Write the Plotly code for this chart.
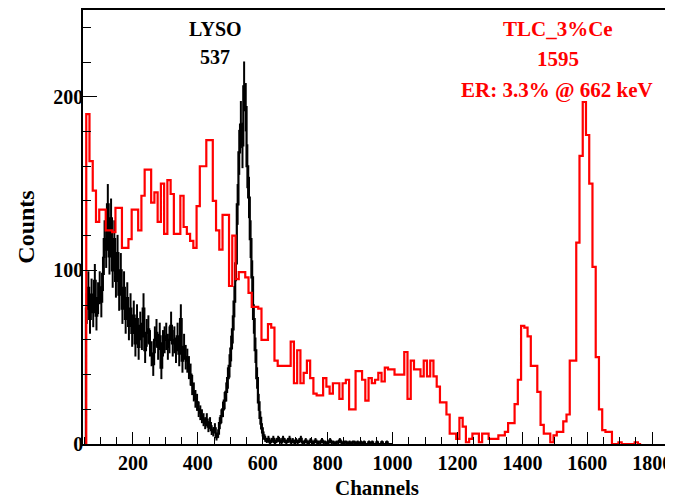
import numpy as np
import plotly.graph_objects as go

# ---------------- data ----------------
# TLC_3%Ce spectrum (red), bins of 10 channels starting at channel 56
TLC_START = 56
TLC_WIDTH = 10
tlc_counts = [
    190, 163, 146, 128, 135, 135, 123, 123, 122, 136,
    136, 113, 113, 118, 135, 135, 123, 143, 158, 158,
    139, 145, 128, 150, 121, 152, 144, 121, 121, 143,
    125, 121, 117, 113, 137, 160, 160, 175, 175, 140,
    123, 112, 132, 132, 91, 120, 95, 99, 99, 96,
    87, 79, 79, 78, 60, 60, 69, 67, 48, 45,
    45, 45, 45, 59, 35, 54, 35, 41, 48, 38,
    29, 28, 28, 38, 33, 29, 35, 35, 26, 35,
    37, 20, 20, 42, 42, 37, 25, 38, 35, 37,
    41, 36, 44, 43, 43, 40, 40, 40, 53, 26,
    48, 43, 43, 39, 48, 39, 48, 39, 33, 24,
    24, 17, 6, 6, 3, 15, 10, 1, 3, 6,
    6, 1, 6, 6, 3, 3, 3, 5, 5, 7,
    12, 12, 23, 37, 68, 67, 62, 45, 45, 30,
    11, 6, 6, 1, 5, 7, 7, 13, 17, 48,
    48, 116, 166, 197, 178, 150, 102, 50, 20, 8,
    7, 7, 0, 0, 1, 0, 0, 0, 0, 1,
    0,
]

# LYSO spectrum (black), bins of 5 channels starting at channel 55
LYSO_START = 55
LYSO_WIDTH = 5
lyso_counts = [
    78, 90, 72, 86, 76, 94, 74, 84, 90, 82, 98, 118, 112,
    138, 108, 130, 100, 118, 94, 110, 86, 100, 78, 90, 72, 84, 68, 78, 64,
    74, 58, 72, 56, 68, 62, 78, 54, 64, 66, 58, 52, 46, 60, 64, 56, 62, 44, 58, 60,
    62, 56, 60, 68, 58, 60, 54, 62, 52, 72, 48, 56, 50, 48, 44, 40, 34, 30, 26, 24,
    20, 18, 16, 14, 12, 14, 10, 12, 8, 7, 9, 4, 6, 12, 16, 20,
    25, 30, 38, 45, 55, 66, 82, 104, 138, 168, 184, 172, 206, 194, 160, 142,
    118, 96, 72, 54, 38, 24, 15, 9,
    5, 3, 2, 3, 1, 2, 3, 1, 2, 3, 2, 1, 3, 2, 1, 2, 3, 1, 2, 1,
    2, 1, 2, 3, 1, 1, 2, 1, 1, 2, 1, 1, 2, 1, 1, 1, 2, 1, 1, 0,
    1, 2, 1, 1, 0, 1, 1, 2, 1, 0, 1, 1, 0, 1, 0, 1, 1, 0, 1, 0,
    1, 0, 1, 0, 0, 1, 0, 1, 0, 0, 1, 0, 0, 1, 0, 0, 1, 0, 0, 0,
]

# annotation texts
lyso_label = ["LYSO", "537"]
tlc_label = ["TLC_3%Ce", "1595", "ER: 3.3% @ 662 keV"]

X_RANGE = [46, 1858]
Y_RANGE = [0, 250]


def step_xy(start, width, counts):
    lefts = [start + i * width for i in range(len(counts))]
    end = start + width * len(counts)
    xs = [start] + lefts + [end]
    ys = [0] + list(counts) + [0]
    return xs, ys


FONT = "Liberation Serif"
RED = "#ff0000"

fig = go.Figure()

# LYSO: step histogram with Poisson error bars
lx, ly = step_xy(LYSO_START, LYSO_WIDTH, lyso_counts)
fig.add_trace(go.Scatter(x=lx, y=ly, mode="lines", line_shape="hv",
                         line=dict(color="black", width=2.2),
                         hoverinfo="skip", showlegend=False))
l_centers = [LYSO_START + (i + 0.5) * LYSO_WIDTH for i in range(len(lyso_counts))]
fig.add_trace(go.Scatter(x=l_centers, y=lyso_counts, mode="markers",
                         marker=dict(size=1, color="black", opacity=0),
                         error_y=dict(type="data", array=np.sqrt(lyso_counts),
                                      width=0, thickness=2, color="black"),
                         hoverinfo="skip", showlegend=False))

# TLC: step histogram
tx, ty = step_xy(TLC_START, TLC_WIDTH, tlc_counts)
fig.add_trace(go.Scatter(x=tx, y=ty, mode="lines", line_shape="hv",
                         line=dict(color=RED, width=2.2),
                         hoverinfo="skip", showlegend=False))

# the page body has an 8px default margin: the figure is sized to fill the rest
OFF = 8
W, H = 673 - OFF, 500 - OFF
ml, mr, mt, mb = 83 - OFF, 2, 10 - OFF, 56
pw, ph = W - ml - mr, H - mt - mb


def px2paper(px, py):
    # px, py: target position in window pixels
    return (px - OFF - ml) / pw, (H - mb - (py - OFF)) / ph


annots = []
for txt, (px, py) in zip(lyso_label, [(215, 29), (215, 57)]):
    x, y = px2paper(px, py)
    annots.append(dict(text=f"<b>{txt}</b>", x=x, y=y, xref="paper", yref="paper",
                       showarrow=False, xanchor="center", yanchor="middle",
                       font=dict(family=FONT, size=20, color="black")))
for txt, (px, py) in zip(tlc_label, [(558, 29), (558, 59), (557, 90)]):
    x, y = px2paper(px, py)
    annots.append(dict(text=f"<b>{txt}</b>", x=x, y=y, xref="paper", yref="paper",
                       showarrow=False, xanchor="center", yanchor="middle",
                       font=dict(family=FONT, size=21, color=RED)))

fig.update_layout(
    width=W, height=H,
    margin=dict(l=ml, r=mr, t=mt, b=mb, autoexpand=False),
    paper_bgcolor="white", plot_bgcolor="white",
    annotations=annots,
    xaxis=dict(
        range=X_RANGE, tick0=0, dtick=200, automargin=False,
        ticks="inside", ticklen=12, tickwidth=1, tickcolor="black",
        minor=dict(dtick=50, tick0=0, ticks="inside", ticklen=7, tickcolor="black", tickwidth=1),
        showline=True, linecolor="black", linewidth=1.5, mirror=True,
        showgrid=False, zeroline=False,
        tickfont=dict(family=FONT, size=20, color="black", weight="bold"),
        title=dict(text="<b>Channels</b>", standoff=8,
                   font=dict(family=FONT, size=21, color="black")),
    ),
    yaxis=dict(
        range=Y_RANGE, tick0=0, dtick=100, automargin=False,
        ticks="inside", ticklen=14, tickwidth=1, tickcolor="black",
        minor=dict(dtick=20, tick0=0, ticks="inside", ticklen=8, tickcolor="black", tickwidth=1),
        showline=True, linecolor="black", linewidth=1.5, mirror=True,
        showgrid=False, zeroline=False, ticklabelstandoff=-6,
        tickfont=dict(family=FONT, size=20, color="black", weight="bold"),
        title=dict(text="<b>Counts</b>", standoff=12,
                   font=dict(family=FONT, size=24, color="black")),
    ),
)

fig.write_html("out.html")
